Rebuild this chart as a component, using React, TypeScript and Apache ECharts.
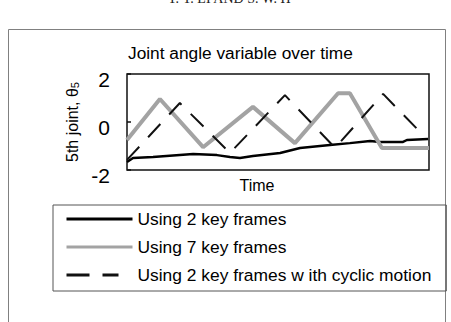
import React, { useEffect, useRef } from "react";
import * as echarts from "echarts";

const titleText = "Joint angle variable over time";
const xName = "Time";
const yTicks = [-2, 0, 2];
const seriesNames = [
  "Using 2 key frames",
  "Using 7 key frames",
  "Using 2 key frames w ith cyclic motion",
];

const blackT = [0, 2, 8.6, 21.9, 29.8, 34.1, 37.4, 41.7, 50.7, 57.3, 67.2, 73.8, 80.5, 83.8, 91.4, 92.7, 99.7];
const blackY = [-1.67, -1.5, -1.46, -1.33, -1.38, -1.46, -1.5, -1.42, -1.29, -1.08, -0.96, -0.88, -0.79, -0.83, -0.83, -0.75, -0.71];

const grayT = [0, 10.9, 25.2, 41.7, 55.6, 69.9, 73.8, 84.4, 100];
const grayY = [-0.75, 0.96, -1.05, 0.63, -0.88, 1.2, 1.2, -1.08, -1.08];

const dashT = [0, 17.5, 34.1, 52.3, 68.9, 84.8, 98.7];
const dashY = [-1.58, 0.79, -1.29, 1.12, -1.08, 1.17, -0.63];

const zip = (t: number[], y: number[]) => t.map((v, i) => [v, y[i]]);

const FONT = "'Liberation Sans', Arial, sans-serif";

export default function App() {
  const ref = useRef<HTMLDivElement>(null);
  useEffect(() => {
    if (!ref.current) return;
    const chart = echarts.init(ref.current, undefined, { renderer: "svg" });
    chart.setOption({
      animation: false,
      backgroundColor: "#fff",
      title: {
        text: titleText,
        left: 128,
        top: 44,
        padding: 0,
        textStyle: { fontFamily: FONT, fontSize: 17.3, fontWeight: "normal", color: "#000" },
      },
      grid: {
        left: 127,
        top: 74,
        width: 302,
        height: 96,
        show: true,
        borderColor: "#111",
        borderWidth: 1.5,
        backgroundColor: "transparent",
      },
      xAxis: {
        type: "value",
        min: 0,
        max: 100,
        axisLine: { show: false },
        axisTick: { show: false },
        axisLabel: { show: false },
        splitLine: { show: false },
        name: xName,
        nameLocation: "middle",
        nameGap: 7,
        nameTextStyle: { fontFamily: FONT, fontSize: 16, color: "#000", padding: [0, 42, 0, 0] },
      },
      yAxis: {
        type: "value",
        min: yTicks[0],
        max: yTicks[yTicks.length - 1],
        interval: 2,
        axisLine: { show: false },
        axisTick: { show: true, inside: true, length: 4, lineStyle: { color: "#111", width: 1.5 } },
        splitLine: { show: false },
        axisLabel: {
          fontFamily: FONT,
          fontSize: 21,
          color: "#000",
          margin: 17,
          formatter: "{v|{value}}",
          rich: {
            v: { fontFamily: FONT, fontSize: 21, color: "#000", padding: [10, 0, 0, 0] },
          },
        },
        name: "{t|5th joint, θ}{s|5}",
        nameLocation: "middle",
        nameGap: 43,
        nameTextStyle: {
          fontFamily: FONT,
          color: "#000",
          rich: {
            t: { fontFamily: FONT, fontSize: 16, color: "#000", verticalAlign: "bottom", lineHeight: 20 },
            s: { fontFamily: FONT, fontSize: 11, color: "#000", verticalAlign: "bottom", lineHeight: 14 },
          },
        },
      },
      legend: {
        orient: "vertical",
        left: 53,
        top: 205,
        borderColor: "#555",
        borderWidth: 1,
        padding: [4, 15, 6, 12],
        itemWidth: 66,
        itemHeight: 14,
        itemGap: 8,
        itemStyle: { opacity: 0 },
        textStyle: { fontFamily: FONT, fontSize: 17.4, color: "#000", lineHeight: 20 },
        data: [
          { name: seriesNames[0], itemStyle: { opacity: 0 }, lineStyle: { width: 3 } },
          { name: seriesNames[1], itemStyle: { opacity: 0 }, lineStyle: { width: 3 } },
          { name: seriesNames[2], itemStyle: { opacity: 0 }, lineStyle: { width: 3, type: [23, 13, 16, 100] } },
        ],
      },
      graphic: [
        {
          type: "rect",
          shape: { x: 8.5, y: 29.5, width: 437, height: 320 },
          style: { fill: "none", stroke: "#808080", lineWidth: 1 },
          silent: true,
        },
        {
          type: "text",
          x: 229,
          y: 5,
          style: {
            text: "Y. Y. LI AND S. W. H",
            font: "14px 'Liberation Serif', serif",
            fill: "#222",
            align: "center",
            verticalAlign: "bottom",
          },
          silent: true,
        },
      ],
      series: [
        {
          name: seriesNames[0],
          type: "line",
          data: zip(blackT, blackY),
          symbol: "none",
          lineStyle: { color: "#000", width: 2.5 },
          itemStyle: { color: "#000" },
        },
        {
          name: seriesNames[1],
          type: "line",
          data: zip(grayT, grayY),
          symbol: "none",
          lineStyle: { color: "#a3a3a3", width: 4 },
          itemStyle: { color: "#a3a3a3" },
        },
        {
          name: seriesNames[2],
          type: "line",
          data: zip(dashT, dashY),
          symbol: "none",
          lineStyle: { color: "#111", width: 2, type: [18, 13] },
          itemStyle: { color: "#111" },
        },
      ],
    });
    return () => chart.dispose();
  }, []);
  return (
    <div
      ref={ref}
      style={{ position: "fixed", left: 0, top: 0, width: 451, height: 322 }}
    />
  );
}
